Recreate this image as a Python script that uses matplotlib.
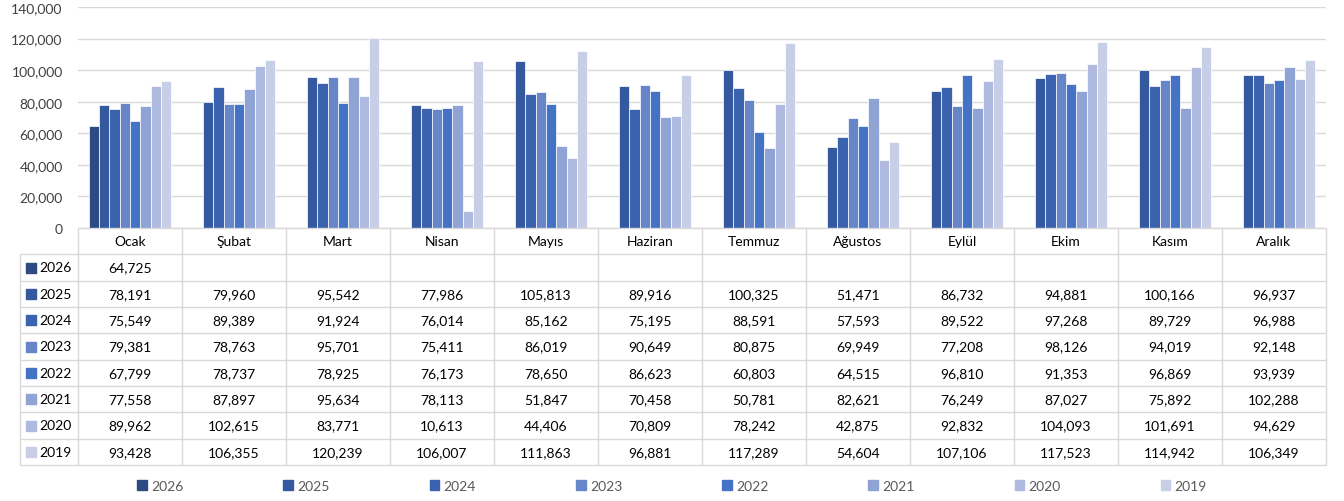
import numpy as np
import matplotlib.pyplot as plt
from matplotlib.patches import Patch
from matplotlib.ticker import FuncFormatter

plt.rcParams['font.family'] = ['Lato', 'DejaVu Sans']

months = ['Ocak', 'Şubat', 'Mart', 'Nisan', 'Mayıs', 'Haziran', 'Temmuz',
          'Ağustos', 'Eylül', 'Ekim', 'Kasım', 'Aralık']
years = ['2026', '2025', '2024', '2023', '2022', '2021', '2020', '2019']

nan = np.nan
y2026 = [64725, nan, nan, nan, nan, nan, nan, nan, nan, nan, nan, nan]
y2025 = [78191, 79960, 95542, 77986, 105813, 89916, 100325, 51471, 86732, 94881, 100166, 96937]
y2024 = [75549, 89389, 91924, 76014, 85162, 75195, 88591, 57593, 89522, 97268, 89729, 96988]
y2023 = [79381, 78763, 95701, 75411, 86019, 90649, 80875, 69949, 77208, 98126, 94019, 92148]
y2022 = [67799, 78737, 78925, 76173, 78650, 86623, 60803, 64515, 96810, 91353, 96869, 93939]
y2021 = [77558, 87897, 95634, 78113, 51847, 70458, 50781, 82621, 76249, 87027, 75892, 102288]
y2020 = [89962, 102615, 83771, 10613, 44406, 70809, 78242, 42875, 92832, 104093, 101691, 94629]
y2019 = [93428, 106355, 120239, 106007, 111863, 96881, 117289, 54604, 107106, 117523, 114942, 106349]
series = [y2026, y2025, y2024, y2023, y2022, y2021, y2020, y2019]

colors = ['#2D4A85', '#35599F', '#3A62AF', '#6686C9', '#4472C4',
          '#8FA3D5', '#AEBADF', '#C7CFE8']

W, H = 1344, 502
fig = plt.figure(figsize=(W / 100, H / 100), dpi=100)

# bar chart
ax = fig.add_axes([78 / W, 1 - 229 / H, (1326 - 78) / W, (229 - 8) / H])
x = np.arange(len(months))
width = 0.0986
for i, (vals, c) in enumerate(zip(series, colors)):
    ax.bar(x + (i - 3.5) * width, vals, width, color=c, edgecolor='white', linewidth=0.5)

ax.set_xlim(-0.5, 11.5)
ax.set_ylim(0, 140000)
ax.set_yticks(range(0, 140001, 20000))
ax.yaxis.set_major_formatter(FuncFormatter(lambda v, p: f'{int(v):,}'))
ax.set_xticks([])
ax.tick_params(axis='y', length=0, pad=11, labelsize=10, labelcolor='#404040')
ax.yaxis.grid(True, color='#D9D9D9', lw=1)
ax.set_axisbelow(True)
for s in ax.spines.values():
    s.set_visible(False)

# data table under the bars
tax = fig.add_axes([78 / W, 1 - 466 / H, (1326 - 78) / W, (466 - 229) / H])
tax.set_xlim(-0.5, 11.5)
tax.set_ylim(9, 0)
tax.axis('off')
left = -0.5 - 58 / 104
grid_c = '#D9D9D9'
tax.hlines(0, -0.5, 11.5, color=grid_c, lw=1, clip_on=False)
tax.hlines(np.arange(1, 10), left, 11.5, color=grid_c, lw=1, clip_on=False)
tax.vlines(np.arange(13) - 0.5, 0, 9, color=grid_c, lw=1, clip_on=False)
tax.vlines(left, 1, 9, color=grid_c, lw=1, clip_on=False)

for j, m in enumerate(months):
    tax.text(j, 0.5, m, ha='center', va='center', fontsize=10, color='black')

for i, (yr, vals, c) in enumerate(zip(years, series, colors)):
    r = i + 1.5
    tax.scatter([-0.5 - 47 / 104], [r], marker='s', s=55, color=c, clip_on=False)
    tax.text(-0.5 - 39 / 104, r, yr, ha='left', va='center', fontsize=10, color='black')
    for j, v in enumerate(vals):
        if not np.isnan(v):
            tax.text(j, r, f'{int(v):,}', ha='center', va='center', fontsize=10, color='black')

handles = [Patch(color=c, label=yr) for yr, c in zip(years, colors)]
fig.legend(handles=handles, loc='center', bbox_to_anchor=(0.5, 1 - 487 / H), ncol=8,
           frameon=False, fontsize=10, labelcolor='#595959', handlelength=0.7,
           handleheight=0.7, handletextpad=0.3, columnspacing=7.2)

plt.savefig('out.png', dpi=100)
